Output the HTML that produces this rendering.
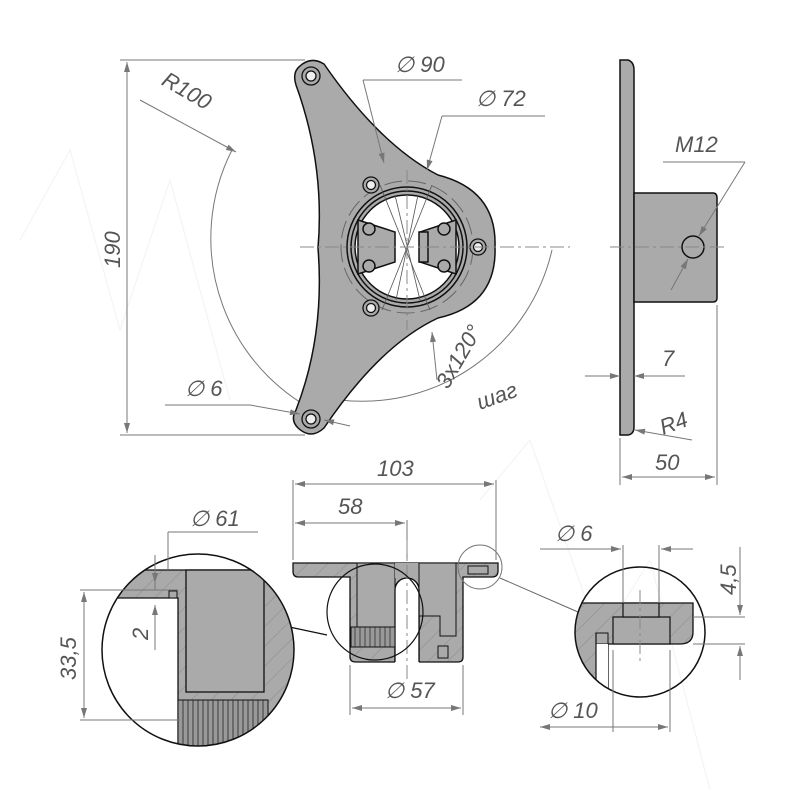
<!DOCTYPE html>
<html><head><meta charset="utf-8"><style>
html,body{margin:0;padding:0;background:#fff}
svg{display:block}
text{font-family:"Liberation Sans",sans-serif;font-style:italic;fill:#555;font-size:22px}
.d{stroke:#777;stroke-width:1;fill:none}
.c{stroke:#888;stroke-width:1;fill:none;stroke-dasharray:14 4 3 4}
.k{stroke:#111;stroke-width:1.5}
.g{fill:#aaa}
</style></head><body>
<svg width="800" height="800" viewBox="0 0 800 800" xmlns="http://www.w3.org/2000/svg">
<defs>
<marker id="a" viewBox="0 0 10 6" refX="10" refY="3" markerWidth="14" markerHeight="6" orient="auto-start-reverse" markerUnits="userSpaceOnUse"><path d="M0,0L10,3L0,6z" fill="#777"/></marker>
<pattern id="h" width="14" height="14" patternUnits="userSpaceOnUse" patternTransform="rotate(45)"><rect width="14" height="14" fill="#aaa"/><line x1="0" y1="0" x2="0" y2="14" stroke="#8a8a8a" stroke-width="1"/></pattern>
</defs>
<g stroke="#f2f2f2" stroke-width="1" fill="none">
<path d="M20 240 L70 150 L120 330 L170 180 L230 400"/>
<path d="M480 500 L530 440 L600 640 L650 560 L710 790"/>
</g>

<!-- TOP VIEW -->
<path class="d" d="M232 150 A195 195 0 0 0 330 418" />
<path class="d" d="M340 400 A195 195 0 0 0 552 250" />
<path class="g k" d="M300 66 Q311 56 324 64 Q380 145 438 175 Q497 190 495 247 Q497 305 438 318 Q380 345 324 428 Q311 440 298 428 Q290 420 296 410 Q325 335 318 248 Q325 165 296 85 Q292 72 300 66 Z"/>
<circle cx="407" cy="247" r="66" fill="none" stroke="#666" stroke-dasharray="18 6"/>
<circle cx="407" cy="247" r="60" fill="#aaa" stroke="#111" stroke-width="1.5"/>
<circle cx="407" cy="247" r="56" fill="#aaa" stroke="#111" stroke-width="1.5"/>
<circle cx="407" cy="247" r="52" fill="#fff" stroke="#111" stroke-width="1.5"/>
<path class="g k" d="M358 220 L395 232 L395 262 L358 274 Z"/>
<path class="g k" d="M456 220 L420 232 L420 262 L456 274 Z"/>
<rect x="419" y="232" width="9" height="30" class="g k"/>
<circle cx="369" cy="229" r="6" class="g k"/><circle cx="369" cy="266" r="6" class="g k"/>
<circle cx="444" cy="229" r="6" class="g k"/><circle cx="444" cy="266" r="6" class="g k"/>
<g stroke="#555" stroke-width="0.8"><line x1="380" y1="185" x2="430" y2="310"/><line x1="432" y1="185" x2="382" y2="310"/><line x1="395" y1="195" x2="420" y2="300"/><line x1="418" y1="195" x2="396" y2="300"/></g>
<g fill="#aaa" stroke="#111" stroke-width="1.3">
<circle cx="311" cy="76" r="9"/><circle cx="311" cy="76" r="5" fill="#eee"/>
<circle cx="311" cy="419" r="9"/><circle cx="311" cy="419" r="5" fill="#eee"/>
<circle cx="371" cy="185" r="8"/><circle cx="371" cy="185" r="4.5" fill="#eee"/>
<circle cx="371" cy="308" r="8"/><circle cx="371" cy="308" r="4.5" fill="#eee"/>
<circle cx="478" cy="247" r="8"/><circle cx="478" cy="247" r="4.5" fill="#eee"/>
</g>
<line class="c" x1="300" y1="247" x2="570" y2="247"/>
<line class="c" x1="407" y1="170" x2="407" y2="330"/>
<line class="d" x1="120" y1="60" x2="305" y2="60"/>
<line class="d" x1="120" y1="435" x2="305" y2="435"/>
<line class="d" x1="127" y1="62" x2="127" y2="433" marker-start="url(#a)" marker-end="url(#a)"/>
<text transform="translate(120,268) rotate(-90)">190</text>
<text x="155" y="96" transform="rotate(30 180 100)">R100</text>
<line class="d" x1="140" y1="100" x2="236" y2="152" marker-end="url(#a)"/>
<text x="185" y="396">∅ 6</text>
<line class="d" x1="165" y1="405" x2="250" y2="405"/>
<line class="d" x1="250" y1="405" x2="300" y2="414" marker-end="url(#a)"/>
<line class="d" x1="350" y1="426" x2="324" y2="420" marker-end="url(#a)"/>
<text x="395" y="72">∅ 90</text>
<line class="d" x1="363" y1="80" x2="462" y2="80"/>
<line class="d" x1="363" y1="80" x2="384" y2="163" marker-end="url(#a)"/>
<text x="476" y="106">∅ 72</text>
<line class="d" x1="442" y1="116" x2="545" y2="116"/>
<line class="d" x1="442" y1="116" x2="427" y2="170" marker-end="url(#a)"/>
<line class="d" x1="437" y1="380" x2="432" y2="332" marker-end="url(#a)"/>
<text transform="translate(448,390) rotate(-60)">3x120°</text>
<text transform="translate(480,410) rotate(-20)">шаг</text>
<!-- SIDE VIEW -->
<path class="g k" d="M620 60 L628 60 Q634 62 634 70 L634 427 Q634 434 628 435 L620 435 Z"/>
<path class="g k" d="M634 193 L713 193 Q717 193 717 198 L717 298 Q717 302 713 302 L634 302 Z"/>
<circle cx="693" cy="247" r="11" class="g k"/>
<line class="c" x1="610" y1="247" x2="725" y2="247"/>
<text x="675" y="152">M12</text>
<line class="d" x1="663" y1="162" x2="745" y2="162"/>
<line class="d" x1="745" y1="162" x2="699" y2="236" marker-end="url(#a)"/>
<line class="d" x1="671" y1="290" x2="688" y2="259" marker-end="url(#a)"/>
<line class="d" x1="585" y1="376" x2="620" y2="376" marker-end="url(#a)"/>
<line class="d" x1="685" y1="376" x2="634" y2="376" marker-end="url(#a)"/>
<text x="662" y="366">7</text>
<text x="660" y="432" transform="rotate(-20 670 425)">R4</text>
<line class="d" x1="692" y1="440" x2="635" y2="430" marker-end="url(#a)"/>
<line class="d" x1="620" y1="438" x2="620" y2="485"/>
<line class="d" x1="717" y1="305" x2="717" y2="485"/>
<line class="d" x1="622" y1="477" x2="715" y2="477" marker-start="url(#a)" marker-end="url(#a)"/>
<text x="655" y="470">50</text>
<!-- SECTION -->
<line class="d" x1="293" y1="480" x2="293" y2="560"/>
<line class="d" x1="496" y1="480" x2="496" y2="560"/>
<line class="d" x1="295" y1="484" x2="494" y2="484" marker-start="url(#a)" marker-end="url(#a)"/>
<text x="377" y="476">103</text>
<line class="d" x1="407" y1="520" x2="407" y2="560"/>
<line class="d" x1="295" y1="523" x2="405" y2="523" marker-start="url(#a)" marker-end="url(#a)"/>
<text x="338" y="514">58</text>
<path fill="url(#h)" stroke="#111" stroke-width="1.3" d="M293 563 L498 563 L498 571 Q498 577 492 577 L463 577 L463 657 Q463 662 458 662 L419 662 L419 590 A12 12 0 0 0 395 590 L395 662 L356 662 Q350 662 350 657 L350 577 L298 577 Q293 577 293 571 Z"/>
<path class="g" stroke="#111" stroke-width="1" d="M357 563 L395 563 L395 642 L357 642 Z"/>
<path class="g" d="M395 563 L419 563 L419 578 L395 578 Z"/>
<path class="g" stroke="#111" stroke-width="1" d="M419 563 L456 563 L456 636 L440 636 L440 616 L419 616Z"/>
<path d="M395 590 A12 12 0 0 1 419 590" fill="#fff" stroke="#111" stroke-width="1.3"/>
<rect x="395" y="590" width="24" height="73" fill="#fff"/>
<line x1="395" y1="590" x2="395" y2="662" stroke="#111" stroke-width="1.3"/>
<line x1="419" y1="590" x2="419" y2="662" stroke="#111" stroke-width="1.3"/>
<rect x="351" y="627" width="44" height="20" fill="#999" stroke="#111"/>
<g stroke="#222" stroke-width="0.7"><line x1="355" y1="627" x2="355" y2="647"/><line x1="360" y1="627" x2="360" y2="647"/><line x1="365" y1="627" x2="365" y2="647"/><line x1="370" y1="627" x2="370" y2="647"/><line x1="375" y1="627" x2="375" y2="647"/><line x1="380" y1="627" x2="380" y2="647"/><line x1="385" y1="627" x2="385" y2="647"/><line x1="390" y1="627" x2="390" y2="647"/></g>
<rect x="438" y="646" width="10" height="12" fill="#aaa" stroke="#111"/>
<rect x="468" y="566" width="20" height="8" fill="#aaa" stroke="#111"/>
<line class="c" x1="407" y1="540" x2="407" y2="680"/>
<circle cx="375" cy="612" r="48" fill="none" stroke="#111" stroke-width="1.2"/>
<circle cx="480" cy="567" r="22" fill="none" stroke="#777" stroke-width="1"/>
<line class="d" x1="350" y1="665" x2="350" y2="715"/>
<line class="d" x1="463" y1="665" x2="463" y2="715"/>
<line class="d" x1="352" y1="708" x2="461" y2="708" marker-start="url(#a)" marker-end="url(#a)"/>
<text x="385" y="698">∅ 57</text>
<line x1="327" y1="635" x2="280" y2="625" stroke="#111" stroke-width="1.2"/>
<line x1="500" y1="578" x2="578" y2="612" stroke="#666" stroke-width="1"/>
<!-- left detail -->
<clipPath id="cl"><circle cx="198" cy="650" r="96"/></clipPath>
<g clip-path="url(#cl)">
<rect x="100" y="550" width="200" height="200" fill="#fff"/>
<path fill="url(#h)" stroke="#111" stroke-width="1.3" d="M100 570 L300 570 L300 750 L178 750 L178 598 L100 598 Z"/>
<rect x="186" y="570" width="78" height="122" class="g" stroke="#111" stroke-width="1.3"/>
<rect x="178" y="700" width="90" height="60" fill="#999" stroke="#111"/>
<g stroke="#222" stroke-width="0.8">
<line x1="183" y1="700" x2="183" y2="750"/><line x1="188" y1="700" x2="188" y2="750"/><line x1="193" y1="700" x2="193" y2="750"/><line x1="198" y1="700" x2="198" y2="750"/><line x1="203" y1="700" x2="203" y2="750"/><line x1="208" y1="700" x2="208" y2="750"/><line x1="213" y1="700" x2="213" y2="750"/><line x1="218" y1="700" x2="218" y2="750"/><line x1="223" y1="700" x2="223" y2="750"/><line x1="228" y1="700" x2="228" y2="750"/><line x1="233" y1="700" x2="233" y2="750"/><line x1="238" y1="700" x2="238" y2="750"/><line x1="243" y1="700" x2="243" y2="750"/><line x1="248" y1="700" x2="248" y2="750"/><line x1="253" y1="700" x2="253" y2="750"/><line x1="258" y1="700" x2="258" y2="750"/><line x1="263" y1="700" x2="263" y2="750"/></g>
<rect x="169" y="591" width="8" height="7" fill="#aaa" stroke="#111"/>
</g>
<circle cx="198" cy="650" r="96" fill="none" stroke="#111" stroke-width="1.5"/>
<line class="d" x1="80" y1="590" x2="178" y2="590"/>
<line class="d" x1="80" y1="720" x2="180" y2="720"/>
<line class="d" x1="84" y1="592" x2="84" y2="718" marker-start="url(#a)" marker-end="url(#a)"/>
<text transform="translate(76,680) rotate(-90)">33,5</text>
<line class="d" x1="155" y1="555" x2="155" y2="590"/>
<line class="d" x1="155" y1="560" x2="155" y2="583" marker-end="url(#a)"/>
<line class="d" x1="155" y1="650" x2="155" y2="605" marker-end="url(#a)"/>
<text transform="translate(148,640) rotate(-90)">2</text>
<line class="d" x1="168" y1="532" x2="258" y2="532"/>
<line class="d" x1="168" y1="532" x2="168" y2="570"/>
<text x="190" y="526">∅ 61</text>
<!-- right detail -->
<clipPath id="cr"><circle cx="640" cy="632" r="65"/></clipPath>
<g clip-path="url(#cr)">
<path fill="url(#h)" stroke="#111" stroke-width="1.3" d="M560 603 L693 603 L693 632 Q693 644 680 644 L608 644 L608 720 L560 720 Z"/>
<rect x="613" y="617" width="57" height="27" class="g" stroke="#111" stroke-width="1.2"/>
<rect x="623" y="603" width="36" height="14" class="g" stroke="#111" stroke-width="1.2"/>
<rect x="596" y="633" width="12" height="11" class="g" stroke="#111"/>
<rect x="596" y="644" width="12" height="80" fill="#fff" stroke="none"/>
<line x1="596" y1="633" x2="596" y2="720" stroke="#111" stroke-width="1.2"/>
</g>
<circle cx="640" cy="632" r="65" fill="none" stroke="#111" stroke-width="1.5"/>
<line class="c" x1="640" y1="590" x2="640" y2="665"/>
<line class="d" x1="623" y1="545" x2="623" y2="603"/>
<line class="d" x1="659" y1="545" x2="659" y2="603"/>
<line class="d" x1="540" y1="549" x2="621" y2="549" marker-end="url(#a)"/>
<line class="d" x1="693" y1="549" x2="661" y2="549" marker-end="url(#a)"/>
<text x="555" y="541">∅ 6</text>
<line class="d" x1="613" y1="650" x2="613" y2="732"/>
<line class="d" x1="670" y1="650" x2="670" y2="732"/>
<line class="d" x1="540" y1="727" x2="668" y2="727" marker-start="url(#a)"/>
<line class="d" x1="615" y1="727" x2="668" y2="727" marker-end="url(#a)"/>
<text x="548" y="718">∅ 10</text>
<line class="d" x1="693" y1="617" x2="745" y2="617"/>
<line class="d" x1="693" y1="644" x2="745" y2="644"/>
<line class="d" x1="740" y1="547" x2="740" y2="615" marker-end="url(#a)"/>
<line class="d" x1="740" y1="680" x2="740" y2="646" marker-end="url(#a)"/>
<text transform="translate(736,595) rotate(-90)">4,5</text>
</svg>
</body></html>
